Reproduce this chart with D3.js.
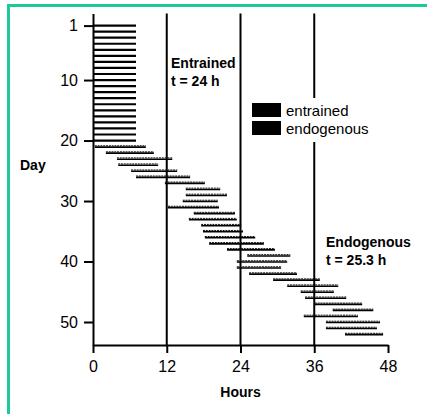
<!DOCTYPE html>
<html>
<head>
<meta charset="utf-8">
<script src="https://cdn.jsdelivr.net/npm/d3@7"></script>
<style>
  html, body { margin: 0; padding: 0; background: #fff; }
  svg { display: block; font-family: "Liberation Sans", Arial, Helvetica, sans-serif; }
  .axis path, .axis line { stroke: #000; stroke-width: 2; }
  .axis text { font-size: 16px; fill: #000; }
</style>
</head>
<body>
<div id="chart"></div>
<script>
// days and activity onset / offset (hours)
const entrainedDays = d3.range(1, 21);
const entrainedStart = 0;
const entrainedEnd = 7;

const endoDays = d3.range(21, 53);
const endoStart = [0.3, 2.1, 3.9, 4.1, 6.2, 7.0, 11.7, 15.1, 15.1, 14.6, 12.2, 16.4, 15.6, 17.6, 17.9, 18.2,
                   18.9, 21.8, 25.1, 23.4, 23.4, 25.4, 29.3, 31.6, 33.8, 34.5, 36.1, 39.0, 34.3, 37.9, 37.9, 41.0];
const endoEnd   = [8.6, 9.9, 12.9, 10.6, 13.7, 15.8, 18.2, 20.7, 21.8, 20.3, 20.5, 23.1, 23.4, 24.1, 24.4, 26.4,
                   27.8, 29.6, 32.1, 31.6, 30.6, 33.2, 36.9, 39.9, 39.2, 41.2, 43.8, 45.6, 43.1, 46.7, 46.2, 47.2];

const hourTicks = [0, 12, 24, 36, 48];
const dayTicks = [1, 10, 20, 30, 40, 50];
const guideHours = [12, 24, 36];

const width = 427, height = 414;
const teal = '#1dc99b';

const svg = d3.select('#chart').append('svg')
    .attr('width', width)
    .attr('height', height);

// frame (top + left only)
svg.append('rect').attr('x', 7).attr('y', 4).attr('width', width - 7).attr('height', 3).attr('fill', teal);
svg.append('rect').attr('x', 7).attr('y', 4).attr('width', 3).attr('height', height - 4).attr('fill', teal);

const x = d3.scaleLinear().domain([0, 48]).range([93, 388]);
const y = d3.scaleLinear().domain([-1, 53.8]).range([13.5, 345]);

// vertical guide lines
svg.append('g')
    .selectAll('line')
    .data(guideHours)
    .join('line')
    .attr('x1', d => x(d)).attr('x2', d => x(d))
    .attr('y1', y(-1)).attr('y2', y(53.8))
    .attr('stroke', '#000').attr('stroke-width', 2);

// entrained bars
svg.append('g')
    .selectAll('line')
    .data(entrainedDays)
    .join('line')
    .attr('x1', x(entrainedStart)).attr('x2', x(entrainedEnd))
    .attr('y1', d => y(d)).attr('y2', d => y(d))
    .attr('stroke', '#000').attr('stroke-width', 2.2);

// endogenous bars: solid lower half + stippled upper half
const endo = endoDays.map((d, i) => ({ day: d, s: endoStart[i], e: endoEnd[i] }));
const eg = svg.append('g');
eg.selectAll('line.lo')
    .data(endo)
    .join('line')
    .attr('class', 'lo')
    .attr('x1', d => x(d.s)).attr('x2', d => x(d.e))
    .attr('y1', d => y(d.day) + 0.5).attr('y2', d => y(d.day) + 0.5)
    .attr('stroke', '#000').attr('stroke-width', 1.6);
eg.selectAll('line.hi')
    .data(endo)
    .join('line')
    .attr('class', 'hi')
    .attr('x1', d => x(d.s)).attr('x2', d => x(d.e))
    .attr('y1', d => y(d.day) - 0.8).attr('y2', d => y(d.day) - 0.8)
    .attr('stroke', '#111').attr('stroke-width', 1)
    .attr('stroke-dasharray', '2,0.8');

// axes
svg.append('g')
    .attr('class', 'axis')
    .attr('transform', `translate(${x(0)},0)`)
    .call(d3.axisLeft(y).tickValues(dayTicks).tickSize(9).tickSizeOuter(0).tickPadding(6));

svg.append('g')
    .attr('class', 'axis')
    .attr('transform', `translate(0,${y(53.8)})`)
    .call(d3.axisBottom(x).tickValues(hourTicks).tickSize(8).tickSizeOuter(0).tickPadding(8));

// axis titles
svg.append('text').attr('x', 20).attr('y', 170)
    .attr('font-size', 14).attr('font-weight', 'bold').text('Day');
svg.append('text').attr('x', x(24)).attr('y', 397).attr('text-anchor', 'middle')
    .attr('font-size', 14).attr('font-weight', 'bold').text('Hours');

// annotations
const note = (tx, ty, lines) => {
    const t = svg.append('text').attr('x', tx).attr('y', ty)
        .attr('font-size', 14).attr('font-weight', 'bold');
    lines.forEach((l, i) => t.append('tspan').attr('x', tx).attr('dy', i ? 18 : 0).text(l));
};
note(171, 68, ['Entrained', 't = 24 h']);
note(326, 247, ['Endogenous', 't = 25.3 h']);

// legend
const legend = svg.append('g');
legend.append('rect').attr('x', 248).attr('y', 98).attr('width', 134).attr('height', 44).attr('fill', '#fff');
const legendItems = ['entrained', 'endogenous'];
legendItems.forEach((lab, i) => {
    legend.append('rect').attr('x', 252).attr('y', 103 + i * 18).attr('width', 29).attr('height', 14).attr('fill', '#000');
    legend.append('text').attr('x', 286).attr('y', 116 + i * 18)
        .attr('font-size', 15).attr('fill', '#000').text(lab);
});
</script>
</body>
</html>
